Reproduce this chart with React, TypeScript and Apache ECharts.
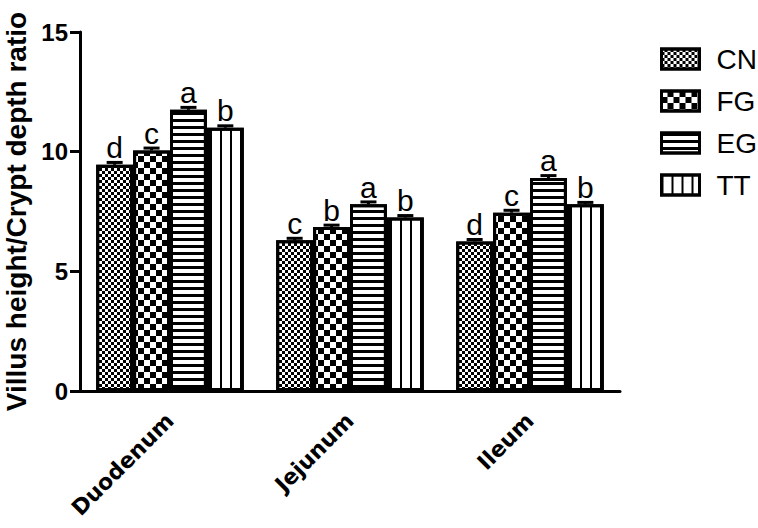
import React, { useEffect, useRef } from "react";
import * as echarts from "echarts";

const categories = ["Duodenum", "Jejunum", "Ileum"];
const seriesNames = ["CN", "FG", "EG", "TT"];
const cnValues = [9.45, 6.3, 6.25];
const fgValues = [10.05, 6.85, 7.45];
const egValues = [11.75, 7.8, 8.9];
const ttValues = [11.0, 7.25, 7.8];
const cnErr = [0.1, 0.08, 0.08];
const fgErr = [0.1, 0.08, 0.1];
const egErr = [0.1, 0.1, 0.1];
const ttErr = [0.08, 0.08, 0.08];
const cnLetters = ["d", "c", "d"];
const fgLetters = ["c", "b", "c"];
const egLetters = ["a", "a", "a"];
const ttLetters = ["b", "b", "b"];
const yTicks = [0, 5, 10, 15];

const allValues = [cnValues, fgValues, egValues, ttValues];
const allErr = [cnErr, fgErr, egErr, ttErr];
const allLetters = [cnLetters, fgLetters, egLetters, ttLetters];

const GAP = 0.18;

const decals: any[] = [
  { symbol: "rect", symbolSize: 1, color: "#000", dashArrayX: [[3, 3], [0, 3, 3, 0]], dashArrayY: [3, 0] },
  { symbol: "rect", symbolSize: 1, color: "#000", dashArrayX: [[6, 6], [0, 6, 6, 0]], dashArrayY: [6, 0] },
  { symbol: "rect", symbolSize: 1, color: "#000", dashArrayX: [1, 0], dashArrayY: [2.5, 3.5] },
  { symbol: "rect", symbolSize: 1, color: "#000", dashArrayX: [2, 8], dashArrayY: [1, 0] },
];

export default function App() {
  const ref = useRef<HTMLDivElement>(null);
  useEffect(() => {
    document.body.style.margin = "0";
    const chart = echarts.init(ref.current!, null, { renderer: "svg" });
    const barSeries = seriesNames.map((name, i) => ({
      name,
      type: "bar",
      data: allValues[i],
      barGap: "0%",
      barCategoryGap: GAP * 100 + "%",
      itemStyle: { color: "#fff", borderColor: "#000", borderWidth: 3, decal: decals[i] },
      label: {
        show: true,
        position: "top",
        distance: 2,
        formatter: (p: any) => allLetters[i][p.dataIndex],
        fontFamily: "Liberation Sans",
        fontSize: 30,
        color: "#000",
      },
      z: 2,
    }));
    const errData: any[] = [];
    allValues.forEach((vals, bi) => {
      vals.forEach((v, ci) => errData.push([ci, v, allErr[bi][ci], bi]));
    });
    const errSeries = {
      type: "custom",
      data: errData,
      z: 5,
      silent: true,
      renderItem: (params: any, api: any) => {
        const ci = api.value(0);
        const v = api.value(1);
        const e = api.value(2);
        const bi = api.value(3);
        const band = api.size([1, 0])[0];
        const bw = (band * (1 - GAP)) / 4;
        const top = api.coord([ci, v + e]);
        const base = api.coord([ci, v]);
        const x = top[0] - (band * (1 - GAP)) / 2 + bw * (bi + 0.5);
        const st = { stroke: "#000", lineWidth: 3 };
        return {
          type: "group",
          children: [
            { type: "line", shape: { x1: x, y1: base[1], x2: x, y2: top[1] }, style: st },
            { type: "line", shape: { x1: x - 8, y1: top[1], x2: x + 8, y2: top[1] }, style: st },
          ],
        };
      },
    };
    chart.setOption({
      animation: false,
      backgroundColor: "#fff",
      grid: { left: 80, right: 138, top: 32, bottom: 137, containLabel: false, outerBoundsMode: "none" },
      legend: {
        data: seriesNames,
        orient: "vertical",
        left: 655,
        top: 39,
        itemWidth: 38,
        itemHeight: 20,
        itemGap: 12,
        icon: "rect",
        itemStyle: { borderColor: "#000", borderWidth: 3 },
        textStyle: { fontFamily: "Liberation Sans", fontSize: 28, color: "#000", lineHeight: 30, padding: [0, 0, 0, 12] },
      },
      xAxis: {
        type: "category",
        data: categories,
        axisLine: { lineStyle: { color: "#000", width: 3 } },
        axisTick: { alignWithLabel: true, length: 8, lineStyle: { color: "#000", width: 3 } },
        axisLabel: {
          rotate: 45,
          margin: 26,
          fontFamily: "DejaVu Sans",
          fontWeight: "bold",
          fontSize: 22,
          color: "#000",
        },
      },
      yAxis: {
        type: "value",
        min: yTicks[0],
        max: yTicks[yTicks.length - 1],
        interval: 5,
        splitLine: { show: false },
        axisLine: { show: true, lineStyle: { color: "#000", width: 3 } },
        axisTick: { show: true, length: 10, lineStyle: { color: "#000", width: 3 } },
        axisLabel: {
          margin: 12,
          fontFamily: "Liberation Sans",
          fontWeight: "bold",
          fontSize: 24,
          color: "#000",
        },
        name: "Villus height/Crypt depth ratio",
        nameLocation: "middle",
        nameGap: 50,
        nameTextStyle: { fontFamily: "Liberation Sans", fontWeight: "bold", fontSize: 28, color: "#000" },
      },
      series: [...barSeries, errSeries],
    });
    return () => chart.dispose();
  }, []);
  return <div ref={ref} style={{ width: 758, height: 528 }} />;
}
